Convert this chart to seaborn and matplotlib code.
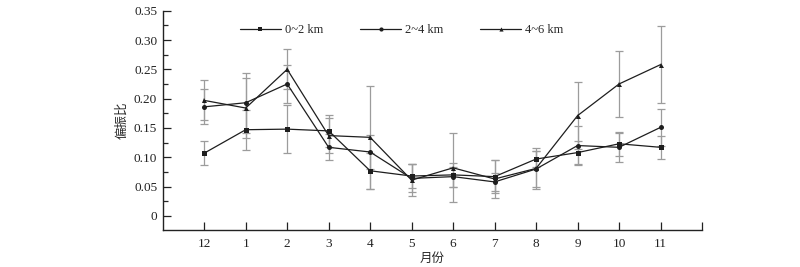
import numpy as np
import pandas as pd
import matplotlib
matplotlib.use("Agg")
import matplotlib.pyplot as plt
import seaborn as sns
from matplotlib.ticker import MultipleLocator, AutoMinorLocator

# Data
months = ['12', '1', '2', '3', '4', '5', '6', '7', '8', '9', '10', '11']
series = ['0~2 km', '2~4 km', '4~6 km']

v02 = [0.107, 0.147, 0.148, 0.145, 0.077, 0.068, 0.070, 0.067, 0.097, 0.108, 0.123, 0.117]
e02 = [0.020, 0.034, 0.041, 0.027, 0.031, 0.020, 0.020, 0.028, 0.013, 0.020, 0.020, 0.020]

v24 = [0.186, 0.193, 0.225, 0.117, 0.109, 0.064, 0.067, 0.058, 0.080, 0.120, 0.117, 0.151]
e24 = [0.030, 0.051, 0.033, 0.022, 0.029, 0.024, 0.017, 0.016, 0.030, 0.033, 0.025, 0.032]

v46 = [0.197, 0.184, 0.250, 0.137, 0.134, 0.061, 0.082, 0.063, 0.081, 0.171, 0.225, 0.258]
e46 = [0.034, 0.051, 0.034, 0.030, 0.088, 0.027, 0.059, 0.033, 0.035, 0.057, 0.056, 0.066]

values = [v02, v24, v46]
errors = [e02, e24, e46]
markers = {'0~2 km': 's', '2~4 km': 'o', '4~6 km': '^'}

# long-format table for seaborn
rows = []
for name, vals in zip(series, values):
    for i, v in enumerate(vals):
        rows.append({'pos': i, 'month': months[i], 'series': name, 'value': v})
df = pd.DataFrame(rows)

sns.set_theme(style='ticks')
plt.rcParams['font.family'] = ['Liberation Serif', 'Noto Sans CJK SC']
plt.rcParams['axes.unicode_minus'] = False

LINE = '#1e1e1e'
ERR = '#9c9c9c'

fig = plt.figure(figsize=(8, 2.67), dpi=100)
ax = fig.add_axes([0.2034, 0.1386, 0.8775 - 0.2034, 0.96 - 0.1386])

# error bars (behind the lines)
for vals, errs in zip(values, errors):
    ax.errorbar(np.arange(len(months)), vals, yerr=errs, fmt='none',
                ecolor=ERR, elinewidth=0.9, capsize=2.6, capthick=0.9, zorder=1)

sns.lineplot(data=df, x='pos', y='value', hue='series', style='series',
             palette=[LINE] * 3, markers=markers, dashes=False,
             markersize=3.6, linewidth=0.9, markeredgewidth=0,
             ax=ax, zorder=3)

ax.set_xlim(-1, 12)
ax.set_ylim(-0.024, 0.35)
ax.set_xticks(range(13))
ax.set_xticklabels(months + [''])
ax.yaxis.set_major_locator(MultipleLocator(0.05))
ax.yaxis.set_minor_locator(AutoMinorLocator(2))
ax.set_yticks(np.arange(0, 0.351, 0.05))
ax.set_yticklabels(['0'] + [f'{t:.2f}' for t in np.arange(0.05, 0.351, 0.05)])

ax.tick_params(axis='both', which='major', direction='in', length=5.8, width=0.9,
               labelsize=9.5, colors='#222222')
ax.tick_params(axis='y', which='minor', direction='in', length=3.4, width=0.9)
ax.tick_params(axis='y', which='major', pad=4)
ax.tick_params(axis='x', which='major', pad=6)

sns.despine(ax=ax)
for s in ['left', 'bottom']:
    ax.spines[s].set_linewidth(1.0)
    ax.spines[s].set_color('#222222')

ax.set_xlabel('月份', fontsize=9, labelpad=2)
ax.set_ylabel('偏振比', fontsize=9, labelpad=4)

handles, labels = ax.get_legend_handles_labels()
leg = ax.legend(handles, labels, ncol=3, frameon=False, fontsize=9,
                loc='center left', bbox_to_anchor=(0.143, 0.91),
                handlelength=3.3, handletextpad=0.3, columnspacing=2.95,
                borderpad=0, borderaxespad=0)
for h in leg.legend_handles:
    h.set_markersize(3.0)
    h.set_linewidth(0.9)

fig.savefig('out.png', dpi=100)
